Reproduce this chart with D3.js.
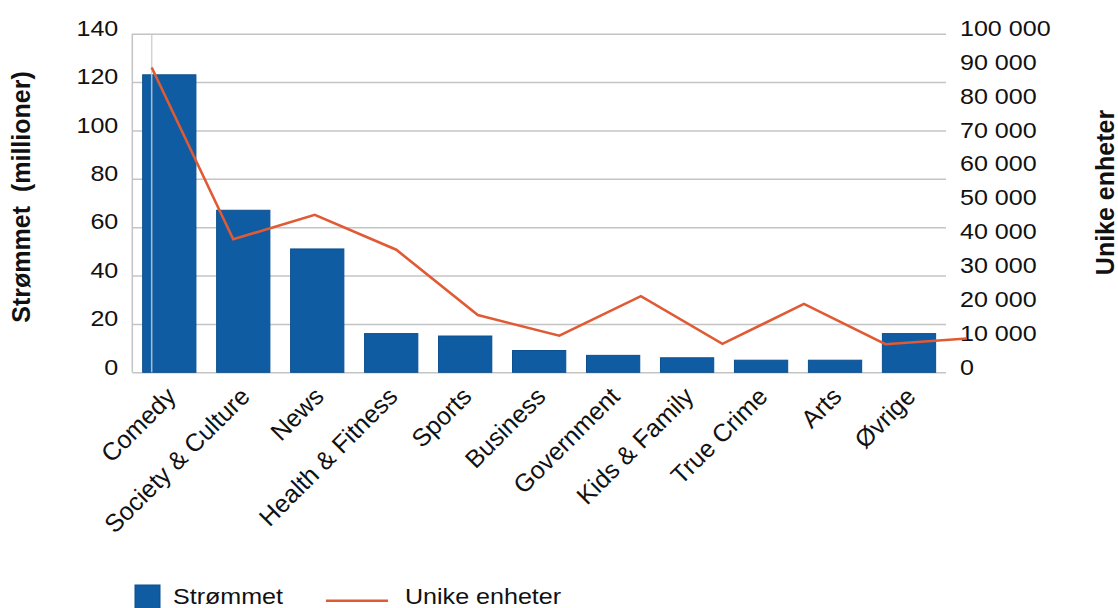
<!DOCTYPE html>
<html>
<head>
<meta charset="utf-8">
<script src="https://cdn.jsdelivr.net/npm/d3@7"></script>
<style>
  html, body { margin: 0; padding: 0; background: #fff; }
  svg { display: block; }
  text { font-family: "Liberation Sans", Arial, Helvetica, sans-serif; fill: #111; }
</style>
</head>
<body>
<svg id="chart" width="1118" height="608"></svg>
<script>
// Podcast categories: streams (millions) and unique devices
const categories = ["Comedy", "Society & Culture", "News", "Health & Fitness", "Sports",
  "Business", "Government", "Kids & Family", "True Crime", "Arts", "Øvrige"];
const streams = [123, 67, 51, 16, 15, 9, 7, 6, 5, 5, 16];            // Strømmet (millioner)
const devices = [90000, 39300, 46500, 36200, 16900, 10800, 22500, 8400, 20200, 8300, 10000]; // Unike enheter
const leftTicks = [0, 20, 40, 60, 80, 100, 120, 140];
const rightTicks = [0, 10000, 20000, 30000, 40000, 50000, 60000, 70000, 80000, 90000, 100000];

const seriesNames = ["Strømmet", "Unike enheter"];
const leftTitle = "Strømmet  (millioner)";
const rightTitle = "Unike enheter";

const BAR = "#105ca3", BAR_EDGE = "#0b4f8e", LINE = "#e05a33", GRID = "#c4c4c4";
const SX = 1.14; // horizontal glyph stretch for upright labels

const svg = d3.select("#chart");
const plot = { left: 132.3, right: 946, top: 33.7, bottom: 372.3 };

const x = d3.scaleBand().domain(categories).range([plot.left, plot.right]).paddingInner(0.28).paddingOuter(0.14);
const xLine = d3.scalePoint().domain(categories).range([plot.left + 19.4, plot.left + 834.7]);
const yL = d3.scaleLinear().domain([0, 140]).range([plot.bottom, plot.top]);
const yR = d3.scaleLinear().domain([0, 100000]).range([plot.bottom, plot.top]);

const locale = d3.formatLocale({ decimal: ",", thousands: " ", grouping: [3], currency: ["", ""] });
const fmtR = locale.format(",");

// gridlines + left axis labels
const gLeft = svg.append("g").attr("transform", `translate(${plot.left},0)`)
  .call(d3.axisLeft(yL).tickValues(leftTicks).tickSize(-(plot.right - plot.left)).tickPadding(0));
gLeft.select(".domain").remove();
gLeft.selectAll(".tick line").attr("stroke", GRID).attr("stroke-width", 1.5);
gLeft.selectAll(".tick text")
  .attr("font-size", 22).attr("font-family", "Liberation Sans, Arial, sans-serif")
  .attr("fill", "#111").attr("text-anchor", "end")
  .attr("x", -14 / SX).attr("dy", null).attr("y", 1.8)
  .attr("transform", `scale(${SX},1)`);

// left border of plot
svg.append("line").attr("x1", plot.left).attr("x2", plot.left)
  .attr("y1", plot.top).attr("y2", plot.bottom).attr("stroke", GRID).attr("stroke-width", 1.5);

// right axis labels
const gRight = svg.append("g").attr("transform", `translate(${plot.right},0)`)
  .call(d3.axisRight(yR).tickValues(rightTicks).tickFormat(fmtR).tickSize(0).tickPadding(0));
gRight.select(".domain").remove();
gRight.selectAll(".tick text")
  .attr("font-size", 22).attr("font-family", "Liberation Sans, Arial, sans-serif")
  .attr("fill", "#111").attr("text-anchor", "start")
  .attr("x", 14 / SX).attr("dy", null).attr("y", 1.8)
  .attr("transform", `scale(${SX},1)`);

// bars
svg.append("g").selectAll("rect").data(categories).join("rect")
  .attr("x", d => x(d)).attr("width", x.bandwidth())
  .attr("y", (d, i) => yL(streams[i])).attr("height", (d, i) => yL(0) - yL(streams[i]))
  .attr("fill", BAR).attr("stroke", BAR_EDGE).attr("stroke-width", 1);

// secondary category axis line
svg.append("line").attr("x1", xLine(categories[0])).attr("x2", xLine(categories[0]))
  .attr("y1", plot.top).attr("y2", plot.bottom)
  .attr("stroke", "#c8ccd2").attr("stroke-width", 1.5).attr("opacity", 0.85);

// devices line
const line = d3.line().x((d, i) => xLine(categories[i])).y(d => yR(d));
svg.append("path").datum(devices).attr("d", line)
  .attr("fill", "none").attr("stroke", LINE).attr("stroke-width", 2.6).attr("stroke-linejoin", "miter");

// category labels
svg.append("g").selectAll("text").data(categories).join("text")
  .attr("transform", d => `translate(${x(d) + x.bandwidth() / 2 + 8},398) rotate(-45)`)
  .attr("text-anchor", "end").attr("font-size", 25)
  .text(d => d);

// axis titles
svg.append("text")
  .attr("transform", `translate(30,197) rotate(-90)`)
  .attr("text-anchor", "middle").attr("font-size", 25).attr("font-weight", "bold")
  .style("white-space", "pre").text(leftTitle);
svg.append("text")
  .attr("transform", `translate(1114,192.5) rotate(-90)`)
  .attr("text-anchor", "middle").attr("font-size", 25).attr("font-weight", "bold")
  .text(rightTitle);

// legend
const lg = svg.append("g");
lg.append("rect").attr("x", 135).attr("y", 585).attr("width", 25).attr("height", 26)
  .attr("fill", BAR).attr("stroke", BAR_EDGE).attr("stroke-width", 1);
lg.append("text").attr("transform", `translate(173,604) scale(${SX},1)`)
  .attr("font-size", 22).text(seriesNames[0]);
lg.append("line").attr("x1", 326).attr("x2", 388).attr("y1", 600.7).attr("y2", 600.7)
  .attr("stroke", LINE).attr("stroke-width", 2.6);
lg.append("text").attr("transform", `translate(405,604) scale(${SX},1)`)
  .attr("font-size", 22).text(seriesNames[1]);
</script>
</body>
</html>
